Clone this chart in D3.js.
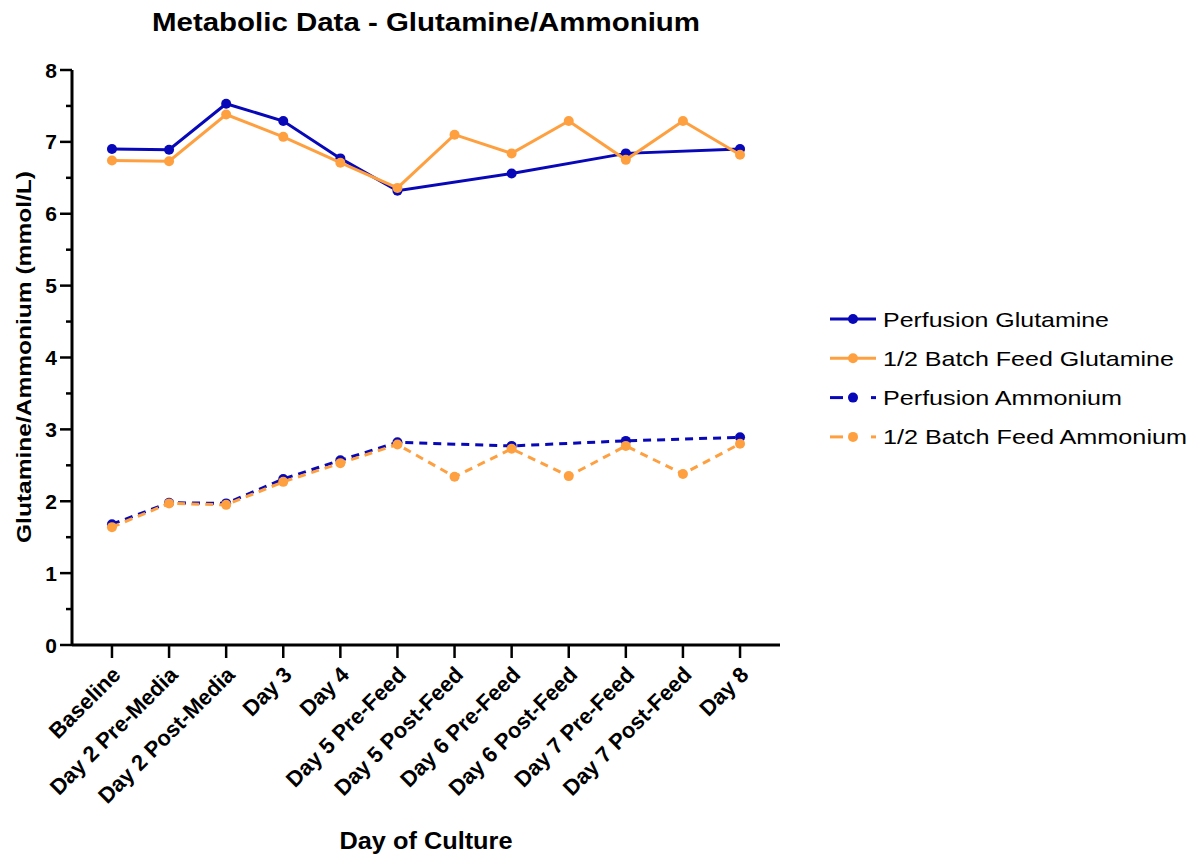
<!DOCTYPE html>
<html>
<head>
<meta charset="utf-8">
<script src="https://cdn.jsdelivr.net/npm/d3@7"></script>
<style>
  body { margin: 0; background: #fff; }
  text { font-family: Arial, "Liberation Sans", sans-serif; }
</style>
</head>
<body>
<div id="chart"></div>
<script>
// categories on the x axis
const days = ['Baseline', 'Day 2 Pre-Media', 'Day 2 Post-Media', 'Day 3', 'Day 4',
  'Day 5 Pre-Feed', 'Day 5 Post-Feed', 'Day 6 Pre-Feed', 'Day 6 Post-Feed',
  'Day 7 Pre-Feed', 'Day 7 Post-Feed', 'Day 8'];

// perfusion has no post-feed samples (null = missing)
const perfusionGlutamine = [6.90, 6.89, 7.53, 7.29, 6.77, 6.32, null, 6.56, null, 6.84, null, 6.90];
const batchGlutamine = [6.74, 6.73, 7.38, 7.07, 6.71, 6.36, 7.10, 6.84, 7.29, 6.75, 7.29, 6.82];
const perfusionAmmonium = [1.68, 1.98, 1.97, 2.31, 2.57, 2.82, null, 2.77, null, 2.84, null, 2.89];
const batchAmmonium = [1.64, 1.97, 1.95, 2.27, 2.53, 2.79, 2.34, 2.73, 2.35, 2.77, 2.38, 2.80];

const yTicks = [0, 1, 2, 3, 4, 5, 6, 7, 8];

const blue = '#0808b8';
const orange = '#ffa040';

const series = [
  { name: 'Perfusion Glutamine', values: perfusionGlutamine, color: blue, dashed: false, len: 226 },
  { name: '1/2 Batch Feed Glutamine', values: batchGlutamine, color: orange, dashed: false, len: 291 },
  { name: 'Perfusion Ammonium', values: perfusionAmmonium, color: blue, dashed: true, len: 239 },
  { name: '1/2 Batch Feed Ammonium', values: batchAmmonium, color: orange, dashed: true, len: 304 }
];

const width = 1199, height = 858;
const svg = d3.select('#chart').append('svg')
  .attr('width', width)
  .attr('height', height);

const x = d3.scalePoint().domain(days).range([72, 780]).padding(0.7);
const y = d3.scaleLinear().domain([0, 8]).range([645, 70]);

// y axis with minor ticks
const yAxis = svg.append('g').attr('transform', 'translate(72,0)');
yAxis.append('line')
  .attr('y1', y(0)).attr('y2', y(8))
  .attr('stroke', '#000').attr('stroke-width', 3);
d3.range(0, 8.01, 0.5).forEach(v => {
  const major = v % 1 === 0;
  yAxis.append('line')
    .attr('x1', major ? -12 : -6).attr('x2', 0)
    .attr('y1', y(v)).attr('y2', y(v))
    .attr('stroke', '#000').attr('stroke-width', 2.5);
});
yAxis.selectAll('text.tick')
  .data(yTicks)
  .enter().append('text')
  .attr('x', -15)
  .attr('y', d => y(d))
  .attr('dy', '0.36em')
  .attr('text-anchor', 'end')
  .attr('font-size', '21px')
  .attr('font-weight', 'bold')
  .text(d => d);

// x axis
const xAxis = svg.append('g').attr('transform', `translate(0,${y(0)})`);
xAxis.append('line')
  .attr('x1', 72).attr('x2', 780)
  .attr('stroke', '#000').attr('stroke-width', 3);
xAxis.selectAll('line.tick')
  .data(days)
  .enter().append('line')
  .attr('x1', d => x(d)).attr('x2', d => x(d))
  .attr('y1', 0).attr('y2', 13)
  .attr('stroke', '#000').attr('stroke-width', 2.5);
xAxis.selectAll('text.tick')
  .data(days)
  .enter().append('text')
  .attr('transform', d => `translate(${x(d) + 10},${31}) rotate(-45)`)
  .attr('text-anchor', 'end')
  .attr('font-size', '22px')
  .attr('font-weight', 'bold')
  .text(d => d);

// lines + markers, gaps are bridged for perfusion
const line = d3.line()
  .x(d => x(d.day))
  .y(d => y(d.v));

series.forEach(s => {
  const pts = days.map((day, i) => ({ day, v: s.values[i] })).filter(d => d.v != null);
  const g = svg.append('g');
  g.append('path')
    .datum(pts)
    .attr('d', line)
    .attr('fill', 'none')
    .attr('stroke', s.color)
    .attr('stroke-width', 3)
    .attr('stroke-dasharray', s.dashed ? '8,6' : null);
  g.selectAll('circle')
    .data(pts)
    .enter().append('circle')
    .attr('cx', d => x(d.day))
    .attr('cy', d => y(d.v))
    .attr('r', 5)
    .attr('fill', s.color);
});

// legend
const legend = svg.append('g').attr('transform', 'translate(830,319)');
series.forEach((s, i) => {
  const row = legend.append('g').attr('transform', `translate(0,${i * 39.3})`);
  if (s.dashed) {
    row.append('line').attr('x1', 0).attr('x2', 13).attr('stroke', s.color).attr('stroke-width', 3);
    row.append('line').attr('x1', 41).attr('x2', 46).attr('stroke', s.color).attr('stroke-width', 3);
  } else {
    row.append('line').attr('x1', 0).attr('x2', 46).attr('stroke', s.color).attr('stroke-width', 3);
  }
  row.append('circle').attr('cx', 23).attr('r', 5).attr('fill', s.color);
  row.append('text')
    .attr('x', 53)
    .attr('dy', '0.36em')
    .attr('font-size', '21px')
    .attr('textLength', s.len)
    .attr('lengthAdjust', 'spacingAndGlyphs')
    .text(s.name);
});

// titles
svg.append('text')
  .attr('x', 426).attr('y', 31)
  .attr('text-anchor', 'middle')
  .attr('font-size', '26px')
  .attr('font-weight', 'bold')
  .attr('textLength', 548)
  .attr('lengthAdjust', 'spacingAndGlyphs')
  .text('Metabolic Data - Glutamine/Ammonium');

svg.append('text')
  .attr('x', 426).attr('y', 849)
  .attr('text-anchor', 'middle')
  .attr('font-size', '23px')
  .attr('font-weight', 'bold')
  .attr('textLength', 173)
  .attr('lengthAdjust', 'spacingAndGlyphs')
  .text('Day of Culture');

svg.append('text')
  .attr('transform', `translate(31,357) rotate(-90)`)
  .attr('text-anchor', 'middle')
  .attr('font-size', '20px')
  .attr('font-weight', 'bold')
  .attr('textLength', 372)
  .attr('lengthAdjust', 'spacingAndGlyphs')
  .text('Glutamine/Ammonium (mmol/L)');
</script>
</body>
</html>
